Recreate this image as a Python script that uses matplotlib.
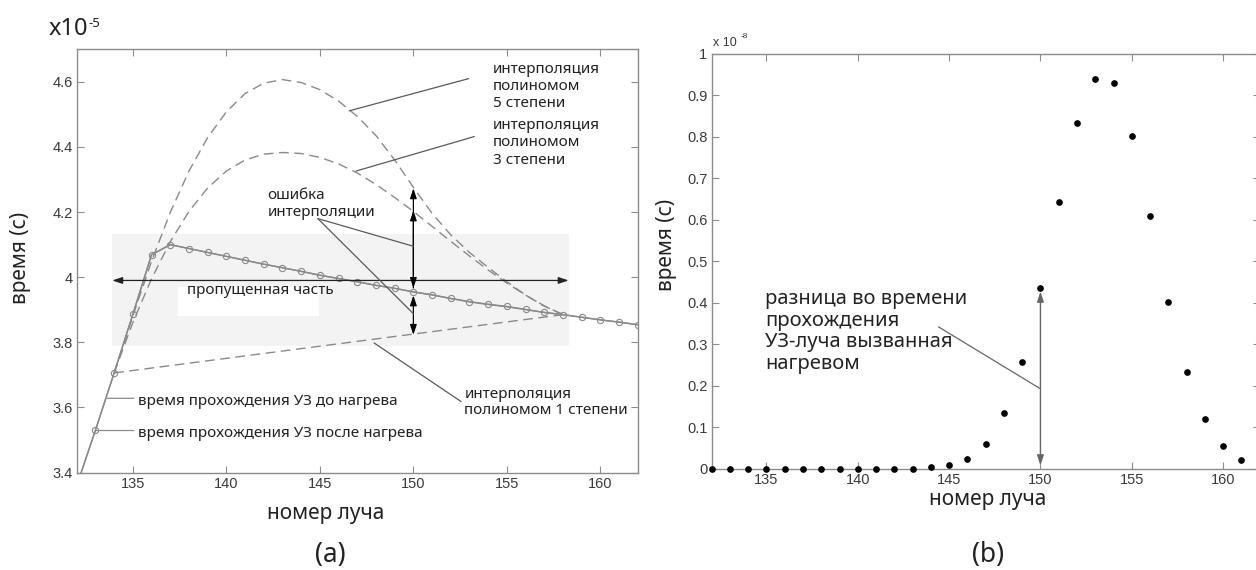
import matplotlib.pyplot as plt
from matplotlib.patches import Rectangle

plt.rcParams['font.family'] = ['Liberation Sans', 'DejaVu Sans']
TXT = ['Noto Sans', 'DejaVu Sans']   # шрифт подписей (кириллица)

# --- данные панели (a), время в единицах 1e-5 c ---
rays = list(range(132, 163))
t_after = [3.360, 3.530, 3.706, 3.886, 4.069, 4.100, 4.088, 4.076, 4.064, 4.052,
           4.040, 4.029, 4.018, 4.006, 3.996, 3.986, 3.975, 3.966, 3.955, 3.946,
           3.935, 3.925, 3.917, 3.910, 3.901, 3.892, 3.885, 3.877, 3.869, 3.862, 3.854]
t_before = [3.360, 3.530, 3.706, 3.886, 4.069, 4.100, 4.088, 4.076, 4.064, 4.052,
            4.040, 4.029, 4.018, 4.006, 3.996, 3.986, 3.9749, 3.9657, 3.9546, 3.9454,
            3.9342, 3.9241, 3.9161, 3.9092, 3.9004, 3.8916, 3.8848, 3.8769, 3.8689, 3.8620, 3.854]

# интерполяция по пропущенной части
gap_rays = list(range(134, 159))
poly5 = [3.706, 3.881, 4.049, 4.199, 4.326, 4.429, 4.508, 4.564, 4.596, 4.607,
         4.598, 4.576, 4.541, 4.494, 4.435, 4.360, 4.276, 4.196, 4.130, 4.076,
         4.030, 3.986, 3.945, 3.911, 3.885]
poly3 = [3.706, 3.861, 3.995, 4.109, 4.202, 4.274, 4.326, 4.360, 4.378, 4.383,
         4.380, 4.368, 4.348, 4.320, 4.285, 4.245, 4.202, 4.156, 4.110, 4.065,
         4.022, 3.982, 3.945, 3.912, 3.885]
lin_rays = [134, 158]
poly1 = [3.706, 3.885]

# --- данные панели (b), разница во времени в единицах 1e-8 c ---
rays_b = list(range(132, 162))
dt = [0, 0, 0, 0, 0, 0, 0, 0, 0, 0, 0, 0, 0.003, 0.009, 0.024,
      0.060, 0.134, 0.257, 0.435, 0.643, 0.833, 0.940, 0.930, 0.803, 0.609,
      0.402, 0.234, 0.119, 0.054, 0.022]

xticks = [135, 140, 145, 150, 155, 160]
yticks_a = [3.4, 3.6, 3.8, 4.0, 4.2, 4.4, 4.6]
ylabels_a = ['3.4', '3.6', '3.8', '4', '4.2', '4.4', '4.6']
yticks_b = [0, 0.1, 0.2, 0.3, 0.4, 0.5, 0.6, 0.7, 0.8, 0.9, 1]
ylabels_b = ['0', '0.1', '0.2', '0.3', '0.4', '0.5', '0.6', '0.7', '0.8', '0.9', '1']

GRAY = '#8a8a8a'
LEAD = '#5a5a5a'

fig = plt.figure(figsize=(12.56, 5.7), dpi=100)
ax1 = fig.add_axes([0.0611, 0.171, 0.4467, 0.7425])
ax2 = fig.add_axes([0.5666, 0.1777, 0.4363, 0.7276])


def style_axes(ax):
    for s in ax.spines.values():
        s.set_color('#8c8c8c')
        s.set_linewidth(1.0)
    ax.tick_params(direction='in', length=5, width=0.8, color='#8c8c8c',
                   top=True, right=True, labelsize=10.5, labelcolor='#3a3a3a', pad=3)


def lead(ax, p0, p1, color=LEAD, lw=0.9):
    ax.annotate('', xy=p1, xytext=p0,
                arrowprops=dict(arrowstyle='-', color=color, lw=lw, shrinkA=0, shrinkB=0))


def arrow(ax, p0, p1, style='<|-|>', color='k', lw=0.9):
    ax.annotate('', xy=p1, xytext=p0,
                arrowprops=dict(arrowstyle=style + ',head_length=0.6,head_width=0.2',
                                color=color, lw=lw, shrinkA=0, shrinkB=0))


# ---------------- (a) ----------------
style_axes(ax1)
ax1.set_xlim(132, 162)
ax1.set_ylim(3.4, 4.7)
ax1.set_xticks(xticks)
ax1.set_yticks(yticks_a)
ax1.set_yticklabels(ylabels_a)

ax1.add_patch(Rectangle((133.9, 3.79), 24.4, 0.343, facecolor='#f3f3f3',
                        edgecolor='none', zorder=0))
ax1.add_patch(Rectangle((137.43, 3.880), 7.5, 0.091, facecolor='white',
                        edgecolor='none', zorder=0.5))

ax1.plot(gap_rays, poly5, color=GRAY, lw=1.0, dashes=(7, 4))
ax1.plot(gap_rays, poly3, color=GRAY, lw=1.0, dashes=(7, 4))
ax1.plot(lin_rays, poly1, color=GRAY, lw=1.0, dashes=(7, 4))
ax1.plot(rays, t_before, color=GRAY, lw=1.0)
ax1.plot(rays, t_after, color=GRAY, lw=1.0, marker='o', ms=4.5,
         mfc='none', mec=GRAY, mew=0.8)

arrow(ax1, (133.9, 3.99), (158.3, 3.99), color='#222222')
arrow(ax1, (150, 3.967), (150, 4.273))
arrow(ax1, (150, 3.967), (150, 4.205), style='-|>')
arrow(ax1, (150, 3.944), (150, 3.823))

# у многострочных подписей va='baseline' относится к последней строке
fs_a = 11
ax1.text(137.88, 3.948, 'пропущенная часть', family=TXT, fontsize=fs_a,
         color='#222222', va='baseline')
ax1.text(142.2, 4.188, 'ошибка\nинтерполяции', family=TXT, fontsize=fs_a,
         color='#222222', va='baseline', linespacing=1.22)
lead(ax1, (144.89, 4.18), (150, 4.095))
lead(ax1, (144.89, 4.18), (150, 3.888))

ax1.text(154.25, 4.522, 'интерполяция\nполиномом\n5 степени', family=TXT,
         fontsize=fs_a, color='#222222', va='baseline', linespacing=1.2)
lead(ax1, (152.96, 4.610), (146.57, 4.511))
ax1.text(154.25, 4.349, 'интерполяция\nполиномом\n3 степени', family=TXT,
         fontsize=fs_a, color='#222222', va='baseline', linespacing=1.2)
lead(ax1, (153.26, 4.432), (146.93, 4.326))
ax1.text(152.73, 3.580, 'интерполяция\nполиномом 1 степени', family=TXT,
         fontsize=fs_a, color='#222222', va='baseline', linespacing=1.1)
lead(ax1, (152.55, 3.618), (147.9, 3.798))

ax1.text(135.3, 3.608, 'время прохождения УЗ до нагрева', family=TXT,
         fontsize=fs_a, color='#222222', va='baseline')
lead(ax1, (133.63, 3.628), (135.05, 3.628), color=GRAY)
ax1.text(135.3, 3.509, 'время прохождения УЗ после нагрева', family=TXT,
         fontsize=fs_a, color='#222222', va='baseline')
lead(ax1, (133.04, 3.529), (135.05, 3.529), color=GRAY)

fig.text(0.039, 0.9386, 'x10', family=TXT, fontsize=17, color='#222222')
fig.text(0.0705, 0.953, '-5', family=TXT, fontsize=9.5, color='#222222')
fig.text(0.0167, 0.547, 'время (с)', family=TXT, fontsize=15, color='#222222',
         rotation=90, ha='center', va='center')
fig.text(0.2596, 0.1, 'номер луча', family=TXT, fontsize=15, color='#222222',
         ha='center', va='center')
fig.text(0.2627, 0.026, '(a)', family=TXT, fontsize=19, color='#222222',
         ha='center', va='center')

# ---------------- (b) ----------------
style_axes(ax2)
ax2.set_xlim(132, 162)
ax2.set_ylim(0, 1)
ax2.set_xticks(xticks)
ax2.set_yticks(yticks_b)
ax2.set_yticklabels(ylabels_b)

ax2.plot(rays_b, dt, linestyle='none', marker='o', ms=3.8, color='k',
         clip_on=False, zorder=3)
arrow(ax2, (150, 0.008), (150, 0.427), color='#666666', lw=1.0)
lead(ax2, (144.42, 0.342), (149.95, 0.194), color='#666666')
ax2.text(134.91, 0.2416, 'разница во времени\nпрохождения\nУЗ-луча вызванная\nнагревом',
         family=TXT, fontsize=14.5, color='#222222', va='baseline', linespacing=1.1)

fig.text(0.5679, 0.919, 'x 10', fontsize=9, color='#3a3a3a')
fig.text(0.5893, 0.933, '-8', fontsize=6, color='#3a3a3a')
fig.text(0.531, 0.570, 'время (с)', family=TXT, fontsize=15, color='#222222',
         rotation=90, ha='center', va='center')
fig.text(0.7866, 0.124, 'номер луча', family=TXT, fontsize=15, color='#222222',
         ha='center', va='center')
fig.text(0.7866, 0.026, '(b)', family=TXT, fontsize=19, color='#222222',
         ha='center', va='center')

fig.savefig('out.png', dpi=100)
